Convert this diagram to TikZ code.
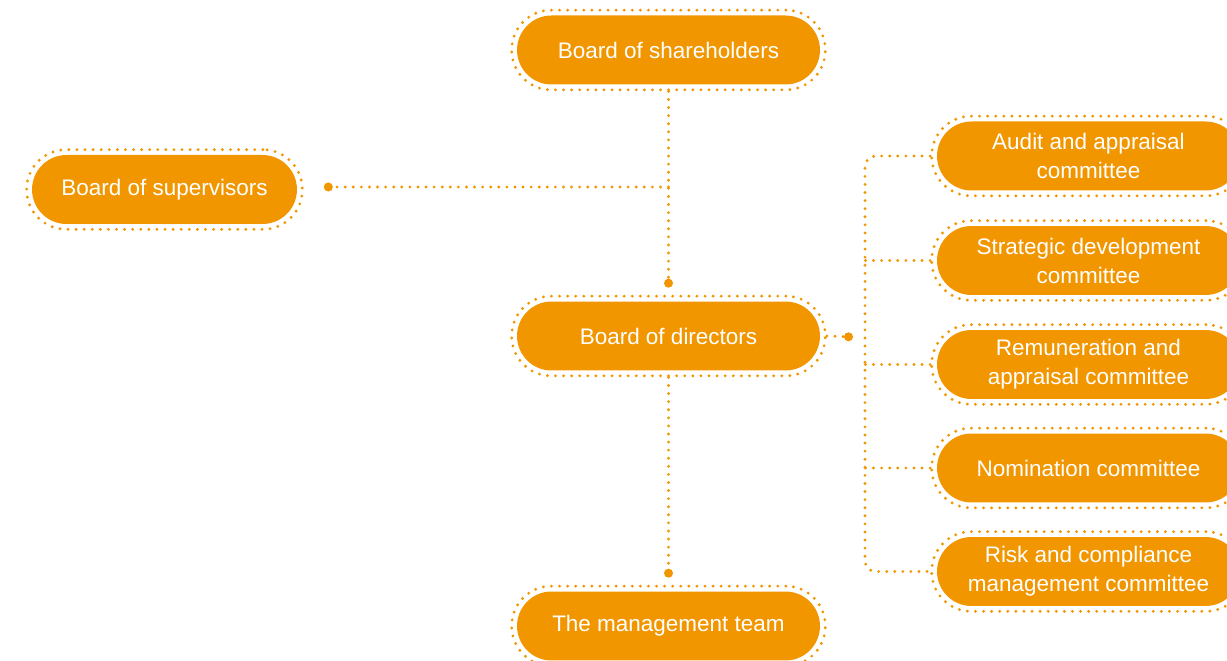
\documentclass[tikz,border=0pt]{standalone}
\usepackage{fontspec}
\setmainfont{Liberation Sans}
\usetikzlibrary{arrows.meta,calc,fit}
\definecolor{orgc}{RGB}{242,150,0}
\tikzset{
  pill/.style={rectangle, fill=orgc, text=white, rounded corners=0.69cm,
    minimum width=6.06cm, minimum height=1.38cm, align=center,
    font=\fontsize{12.8}{16.5}\selectfont, inner sep=0pt},
  ring/.style={rectangle, draw=orgc, line width=1.8pt, line cap=round,
    dash pattern=on 0pt off 4.6pt, rounded corners=0.79cm, inner sep=0.1cm},
  link/.style={draw=orgc, line width=1.8pt, line cap=round,
    dash pattern=on 0pt off 4.6pt},
  dotend/.style={-{Circle[length=5pt]}}
}
\begin{document}
\begin{tikzpicture}[x=0.02cm, y=-0.02cm]
  \useasboundingbox (0,0) rectangle (1227,661);
  \clip (0,0) rectangle (1227,661);
  \node[pill] (shr) at (668.5,50) {Board of shareholders};
  \node[pill, minimum width=5.3cm] (sup) at (164.5,189.5) {Board of supervisors};
  \node[pill] (dir) at (668.5,336) {Board of directors};
  \node[pill] (mgt) at (668.5,626) {The management team};
  \node[pill] (c1) at (1088.5,156) {Audit and appraisal\\committee};
  \node[pill] (c2) at (1088.5,260.5) {Strategic development\\committee};
  \node[pill] (c3) at (1088.5,364.5) {Remuneration and\\appraisal committee};
  \node[pill] (c4) at (1088.5,468) {Nomination committee};
  \node[pill] (c5) at (1088.5,571.5) {Risk and compliance\\management committee};
  \foreach \n in {shr,sup,dir,mgt,c1,c2,c3,c4,c5}
    \node[ring, fit=(\n)] (\n-o) {};
  % connectors
  \coordinate (junc) at (shr-o.south |- 0,187);
  \coordinate (bus) at (865,365);
  \draw[link, dotend] (shr-o.south) -- ($(dir-o.north)+(0,-7)$);
  \draw[link, dotend] (junc) -- ($(sup-o.east |- junc)+(20,0)$);
  \draw[link, dotend] (dir-o.south) -- ($(mgt-o.north)+(0,-7)$);
  \draw[link, dotend] (dir-o.east) -- ($(dir-o.east)+(26,1)$);
  \draw[link, rounded corners=6pt] (c1-o.west) -| (bus |- c5-o.west) -- (c5-o.west);
  \draw[link] (c2-o.west) -- (c2-o.west -| bus);
  \draw[link] (c3-o.west) -- (c3-o.west -| bus);
  \draw[link] (c4-o.west) -- (c4-o.west -| bus);
\end{tikzpicture}
\end{document}
